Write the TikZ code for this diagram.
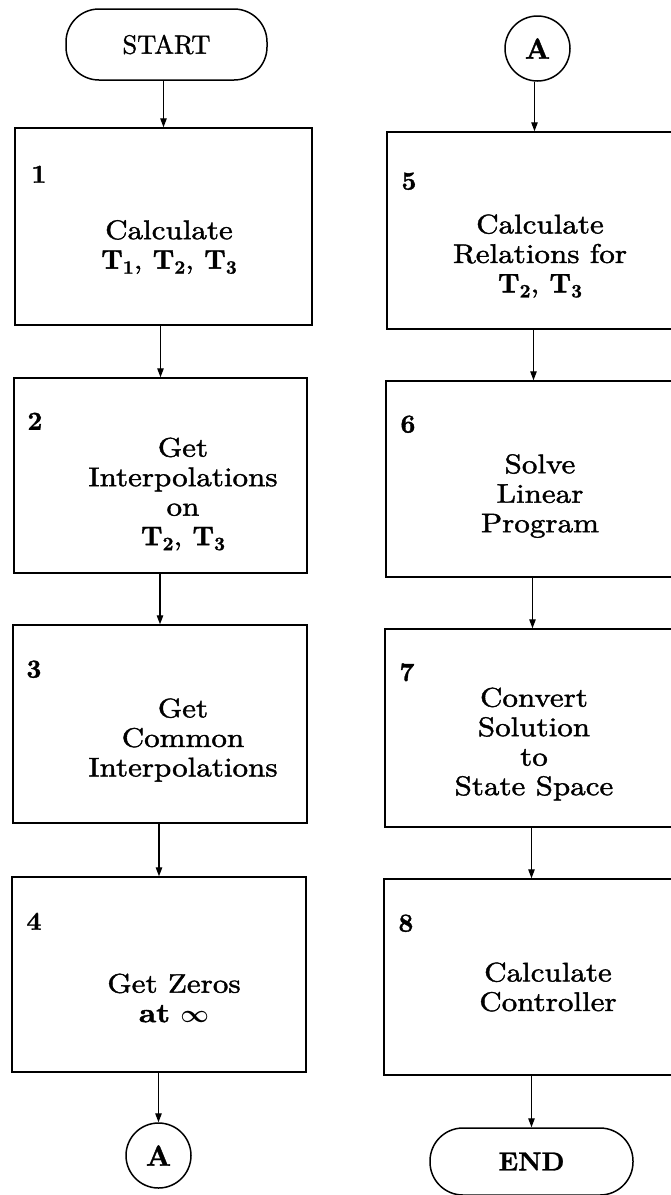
\documentclass[tikz,border=0pt]{standalone}
\usepackage{fontspec}
\usetikzlibrary{arrows.meta}
\newfontfamily\bodyfont{lmroman10-regular}[Extension=.otf, BoldFont=lmroman10-bold, FakeStretch=1.15, FakeBold=1.5]
\newfontfamily\capfont{lmroman10-regular}[Extension=.otf, BoldFont=lmroman10-bold, FakeBold=1.2]
\newcommand{\Tn}[1]{{\capfont\bfseries T\raisebox{-5pt}{\fontsize{19}{19}\selectfont #1}}}
\tikzset{
  box/.style={draw, line width=1.5pt, rectangle, inner sep=0pt},
  term/.style={draw, line width=1.5pt, rectangle, rounded corners=33pt, inner sep=0pt},
  conn/.style={draw, circle, line width=1.5pt, inner sep=0pt, minimum size=65pt,
    font=\capfont\bfseries\fontsize{29}{29}\selectfont},
  lbl/.style={align=center, inner sep=0pt, font=\bodyfont\fontsize{27}{29.5}\selectfont},
  num/.style={anchor=west, inner sep=0pt, font=\capfont\bfseries\fontsize{26}{26}\selectfont},
  arr/.style={-{Triangle[length=9pt,width=6.5pt]}, line width=1.2pt},
}
\begin{document}
\begin{tikzpicture}[x=1pt, y=-1pt]
\path[use as bounding box, fill=white] (0,0) rectangle (670,1195);

% left column
\node[term, minimum width=201pt, minimum height=71pt, font=\capfont\fontsize{26.5}{26.5}\selectfont] (start) at (166.5,44.5) {START};
\node[box, minimum width=297pt, minimum height=197pt] (b1) at (163.5,226.5) {};
\node[box, minimum width=293pt, minimum height=195pt] (b2) at (160.5,475.5) {};
\node[box, minimum width=294pt, minimum height=198pt] (b3) at (160,724) {};
\node[box, minimum width=294pt, minimum height=195pt] (b4) at (159,974.5) {};
\node[conn] (a1) at (158.5,1155.5) {A};

% right column
\node[conn] (a2) at (537.5,48.5) {A};
\node[box, minimum width=295pt, minimum height=197pt] (b5) at (534.5,230.5) {};
\node[box, minimum width=295pt, minimum height=196pt] (b6) at (533.5,479) {};
\node[box, minimum width=295pt, minimum height=198pt] (b7) at (532.5,728) {};
\node[box, minimum width=295pt, minimum height=196pt] (b8) at (531.5,977) {};
\node[term, minimum width=203pt, minimum height=67pt, font=\capfont\bfseries\fontsize{26}{26}\selectfont] (end) at (531.5,1161.5) {END};

% step numbers
\node[num] (n1) at ([xshift=17pt,yshift=-47pt]b1.north west) {1};
\node[num] (n2) at ([xshift=14pt,yshift=-44pt]b2.north west) {2};
\node[num] (n3) at ([xshift=14pt,yshift=-45pt]b3.north west) {3};
\node[num] (n4) at ([xshift=15pt,yshift=-45pt]b4.north west) {4};
\node[num] (n5) at ([xshift=15pt,yshift=-50pt]b5.north west) {5};
\node[num] (n6) at ([xshift=15pt,yshift=-44pt]b6.north west) {6};
\node[num] (n7) at ([xshift=15pt,yshift=-44pt]b7.north west) {7};
\node[num] (n8) at ([xshift=15pt,yshift=-45pt]b8.north west) {8};

% box texts
\node[lbl] (t1) at (169,247) {Calculate\\ \Tn{1}, \Tn{2}, \Tn{3}};
\node[lbl] (t2) at (183,494) {Get\\ Interpolations\\ on\\ \Tn{2}, \Tn{3}};
\node[lbl] (t3) at (183,740) {Get\\ Common\\ Interpolations};
\node[lbl] (t4) at (174,998) {Get Zeros\\ \textbf{at} {\boldmath$\infty$}};
\node[lbl] (t5) at (540,256) {Calculate\\ Relations for\\ \Tn{2}, \Tn{3}};
\node[lbl] (t6) at (540,496) {Solve\\ Linear\\ Program};
\node[lbl] (t7) at (534,744) {Convert\\ Solution\\ to\\ State Space};
\node[lbl] (t8) at (548,987) {Calculate\\ Controller};

% connectors
\draw[arr] (b1.north |- start.south) -- (b1.north);
\draw[arr] (b2.north |- b1.south) -- (b2.north);
\draw[arr] (b3.north |- b2.south) -- (b3.north);
\draw[arr] (b4.north |- b3.south) -- (b4.north);
\draw[arr] (a1.north |- b4.south) -- (a1.north);
\draw[arr] (b5.north |- a2.south) -- (b5.north);
\draw[arr] (b6.north |- b5.south) -- (b6.north);
\draw[arr] (b7.north |- b6.south) -- (b7.north);
\draw[arr] (b8.north |- b7.south) -- (b8.north);
\draw[arr] (end.north |- b8.south) -- (end.north);
\end{tikzpicture}
\end{document}
